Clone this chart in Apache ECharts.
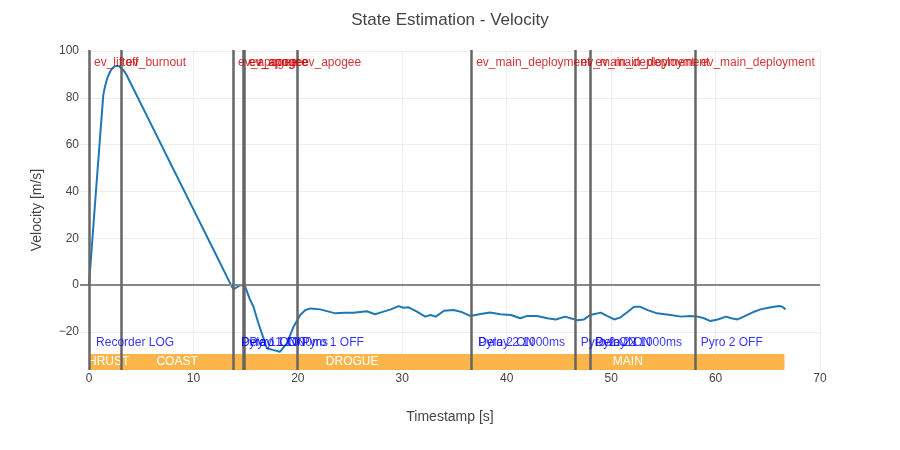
<!DOCTYPE html>
<html>
<head>
<meta charset="utf-8">
<title>State Estimation - Velocity</title>
<script src="https://cdn.jsdelivr.net/npm/echarts@6/dist/echarts.min.js"></script>
</head>
<body style="margin:0">
<div id="main" style="width:900px;height:450px"></div>
<script>
// velocity samples
var time = [-0.86, 0, 0.7, 1.37, 1.53, 1.75, 2.0, 2.2, 2.4, 2.65, 2.85, 3.03, 3.3, 3.6, 6, 8, 10, 12, 13.2, 13.68, 13.85,
  14.5, 14.96, 15.4, 15.75, 16.2, 16.55, 17.03, 17.67, 18.3, 18.95, 19.59, 20.23, 20.7, 21.19, 22.15,
  23.6, 24.5, 25.35, 26.6, 27.4, 27.9, 28.9, 29.65, 30.1, 30.6, 31.4, 32.2, 32.7, 33.2, 34.0, 34.9,
  35.6, 36.5, 37.5, 38.4, 39.4, 40.4, 41.3, 41.97, 42.9, 43.9, 44.7, 45.6, 46.1, 46.75, 47.4, 48.0,
  49.0, 49.6, 50.3, 50.9, 51.6, 52.2, 52.8, 53.5, 54.4, 55.7, 56.7, 57.6, 58.3, 58.9, 59.5, 60.2,
  61.0, 61.5, 62.1, 62.7, 63.7, 64.3, 65.3, 66.1, 66.4, 66.7];
var velocity = [0, 0, 42, 81.2, 84.7, 88.3, 91.0, 92.4, 93.2, 93.6, 93.6, 93.2, 91.8, 89.7, 68.2, 50.2, 32.3, 14.4, 3.6, -0.7, -1.8,
  0, -0.7, -6, -9.3, -16, -20.6, -27, -27.8, -28.5, -24.9, -17.8, -12.8, -10.8, -10, -10.4,
  -12.1, -11.8, -11.8, -11.2, -12.5, -11.8, -10.4, -9, -9.7, -9.5, -11.4, -13.5, -12.8, -13.5, -11, -10.7,
  -11.4, -13.2, -12.4, -11.7, -12.5, -12.8, -14.2, -13.2, -13.2, -14.2, -14.7, -13.5, -14.2, -15, -14.7, -12.8,
  -11.8, -13.2, -14.7, -13.8, -11.4, -9.3, -9.3, -10.7, -12.1, -12.8, -13.5, -13.2, -13.5, -14.2, -15.4, -14.7,
  -13.5, -14.2, -14.7, -13.5, -11.4, -10.4, -9.5, -9, -9.3, -10.4];

// state machine events (top, red)
var eventTimes = [0, 3.07, 13.8, 14.8, 14.9, 19.9, 36.6, 46.6, 48.0, 58.1];
var eventNames = ['ev_liftoff', 'ev_burnout', 'ev_apogee', 'ev_apogee', 'ev_apogee', 'ev_apogee',
  'ev_main_deployment', 'ev_main_deployment', 'ev_main_deployment', 'ev_main_deployment'];

// recorder events (bottom, blue)
var logTimes = [0.2, 14.1, 14.1, 14.9, 19.9, 36.8, 36.8, 46.6, 48.0, 48.0, 58.1];
var logNames = ['Recorder LOG', 'Delay 1 1000ms', 'Pyro 1 ON', 'Pyro 1 ON', 'Pyro 1 OFF',
  'Delay 2 1000ms', 'Pyro 2 ON', 'Pyro 2 ON', 'Delay 2 1000ms', 'Pyro 2 ON', 'Pyro 2 OFF'];

// flight phases
var phaseNames = ['THRUST', 'COAST', 'DROGUE', 'MAIN'];
var phaseStart = [0, 3.07, 13.8, 36.6];
var phaseEnd = [3.07, 13.8, 36.6, 66.6];

var yMin = -36.3, yMax = 100.4;
var font = '"Liberation Sans", Arial, sans-serif';

var lineData = time.map(function (t, i) { return [t, velocity[i]]; });
var topLabels = eventTimes.map(function (t) { return [t, 94.9]; });
var bottomLabels = logTimes.map(function (t) { return [t, -24.8]; });
var phaseAreas = phaseNames.map(function (n, i) {
  return [{ name: n, xAxis: phaseStart[i], yAxis: yMin }, { xAxis: phaseEnd[i], yAxis: -29.5 }];
});

function fmt(v) { return v < 0 ? '\u2212' + Math.abs(v) : String(v); }

var chart = echarts.init(document.getElementById('main'));
chart.setOption({
  animation: false,
  textStyle: { fontFamily: font },
  title: {
    text: 'State Estimation - Velocity', left: 'center', top: 7,
    textStyle: { fontFamily: font, fontSize: 17, fontWeight: 'normal', color: '#444' }
  },
  grid: { left: 80, right: 80, top: 50, bottom: 80 },
  xAxis: {
    type: 'value', min: -0.86, max: 70, splitNumber: 7,
    name: 'Timestamp [s]', nameLocation: 'middle', nameGap: 40,
    nameTextStyle: { fontFamily: font, fontSize: 14, color: '#444' },
    axisLine: { show: false }, axisTick: { show: false },
    axisLabel: { color: '#444', fontSize: 12, margin: 3, showMinLabel: false, formatter: fmt },
    splitLine: { show: true, showMinLine: false, lineStyle: { color: '#eee', width: 1 } }
  },
  yAxis: {
    type: 'value', min: yMin, max: yMax, splitNumber: 7,
    name: 'Velocity [m/s]', nameLocation: 'middle', nameGap: 36,
    nameTextStyle: { fontFamily: font, fontSize: 14, color: '#444' },
    axisLine: { show: false }, axisTick: { show: false },
    axisLabel: { color: '#444', fontSize: 12, margin: 1, showMinLabel: false, showMaxLabel: false, formatter: fmt },
    splitLine: { show: true, showMinLine: false, showMaxLine: false, lineStyle: { color: '#eee', width: 1 } }
  },
  series: [
    {
      name: 'phases', type: 'line', data: [], silent: true,
      markArea: {
        silent: true,
        itemStyle: { color: '#fbb54a', opacity: 1 },
        label: { show: true, position: 'inside', color: '#fff', fontFamily: font, fontSize: 12 },
        data: phaseAreas
      }
    },
    {
      name: 'zero', type: 'line', data: [], silent: true,
      markLine: {
        silent: true, symbol: 'none', label: { show: false },
        lineStyle: { color: '#888', width: 2, type: 'solid' },
        data: [{ yAxis: 0 }]
      }
    },
    {
      name: 'Velocity', type: 'line', data: lineData, showSymbol: false, z: 3,
      lineStyle: { color: '#1f77b4', width: 2 }, itemStyle: { color: '#1f77b4' }
    },
    {
      name: 'events', type: 'line', data: [], silent: true, z: 4,
      markLine: {
        silent: true, symbol: 'none', label: { show: false },
        lineStyle: { color: '#666', width: 2.5, type: 'solid' },
        data: eventTimes.map(function (t) { return { xAxis: t }; })
      }
    },
    {
      name: 'eventLabels', type: 'scatter', data: topLabels, symbolSize: 0, silent: true, z: 5,
      label: {
        show: true, position: 'right', distance: 5, color: '#cc0000', fontFamily: font, fontSize: 12,
        formatter: function (p) { return eventNames[p.dataIndex]; }
      }
    },
    {
      name: 'logLabels', type: 'scatter', data: bottomLabels, symbolSize: 0, silent: true, z: 5,
      label: {
        show: true, position: 'right', distance: 5, color: '#0000ff', fontFamily: font, fontSize: 12,
        formatter: function (p) { return logNames[p.dataIndex]; }
      }
    }
  ]
});
</script>
</body>
</html>
